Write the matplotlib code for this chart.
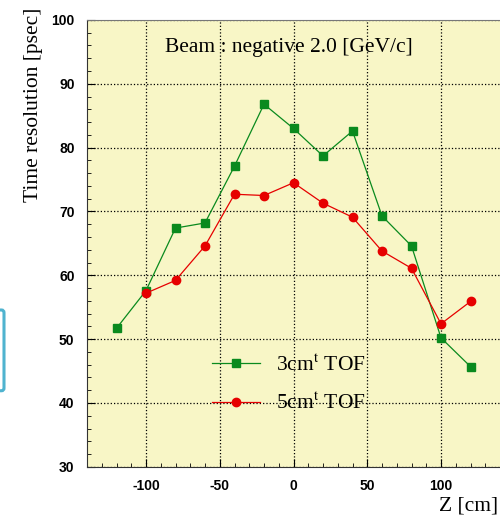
import numpy as np
import matplotlib
matplotlib.use('Agg')
import matplotlib.pyplot as plt
from matplotlib.ticker import MultipleLocator
from matplotlib.patches import FancyBboxPatch

# data
z = [-120, -100, -80, -60, -40, -20, 0, 20, 40, 60, 80, 100, 120]
tof3 = [51.7, 57.6, 67.4, 68.2, 77.1, 86.8, 83.0, 78.7, 82.6, 69.3, 64.6, 50.2, 45.7]
z5 = [-100, -80, -60, -40, -20, 0, 20, 40, 60, 80, 100, 120]
tof5 = [57.2, 59.2, 64.6, 72.7, 72.5, 74.5, 71.3, 69.1, 63.8, 61.1, 52.4, 55.9]

plt.rcParams['mathtext.fontset'] = 'stix'
plt.rcParams['axes.unicode_minus'] = False
serif = 'Liberation Serif'

fig = plt.figure(figsize=(5.0, 5.21), dpi=100)
ax = fig.add_axes([0.174, 0.104, 0.826, 0.8577])
ax.set_facecolor('#f8f6c6')

ax.plot(z, tof3, '-s', color='#0a8a1e', ms=6, lw=0.9, label='3cm$^{\\mathrm{t}}$ TOF')
ax.plot(z5, tof5, '-o', color='#e60000', ms=6, lw=0.9, label='5cm$^{\\mathrm{t}}$ TOF')

ax.set_xlim(-140, 140)
ax.set_ylim(30, 100)
ax.xaxis.set_major_locator(MultipleLocator(50))
ax.xaxis.set_minor_locator(MultipleLocator(10))
ax.yaxis.set_major_locator(MultipleLocator(10))
ax.yaxis.set_minor_locator(MultipleLocator(2))
ax.tick_params(which='both', direction='in', top=False, right=False)
ax.tick_params(which='major', length=6, pad=9)
ax.tick_params(which='minor', length=3)
for lab in ax.get_xticklabels() + ax.get_yticklabels():
    lab.set_fontfamily('Liberation Sans')
    lab.set_fontweight('bold')
    lab.set_fontsize(10)
ax.grid(True, which='major', color='black', ls=':', lw=0.9)

ax.spines['right'].set_visible(False)
ax.spines['top'].set_color('#777777')
ax.spines['left'].set_color('#333333')
ax.spines['bottom'].set_color('#333333')

ax.text(-3, 95.7, 'Beam : negative 2.0 [GeV/c]', ha='center', va='center',
        fontsize=15.5, family=serif)
ax.set_ylabel('Time resolution [psec]', fontsize=15.5, family=serif)
ax.yaxis.set_label_coords(-0.106, 0.81)
fig.text(0.996, 0.029, 'Z [cm]', ha='right', va='center', fontsize=15.5, family=serif)

leg = ax.legend(loc='center left', bbox_to_anchor=(-55.3, 42.9), bbox_transform=ax.transData,
                frameon=False, handlelength=2.23, handletextpad=0.75,
                labelspacing=0.8, borderpad=0, borderaxespad=0,
                prop={'family': serif, 'size': 15.5})

# cyan frame fragment at the left edge of the picture
fig.patches.append(FancyBboxPatch((-0.02, 0.25), 0.028, 0.155,
                                  boxstyle='round,pad=0,rounding_size=0.005',
                                  transform=fig.transFigure, fill=False,
                                  ec='#4fb3cf', lw=2.2))

fig.savefig('out.png', dpi=100)
